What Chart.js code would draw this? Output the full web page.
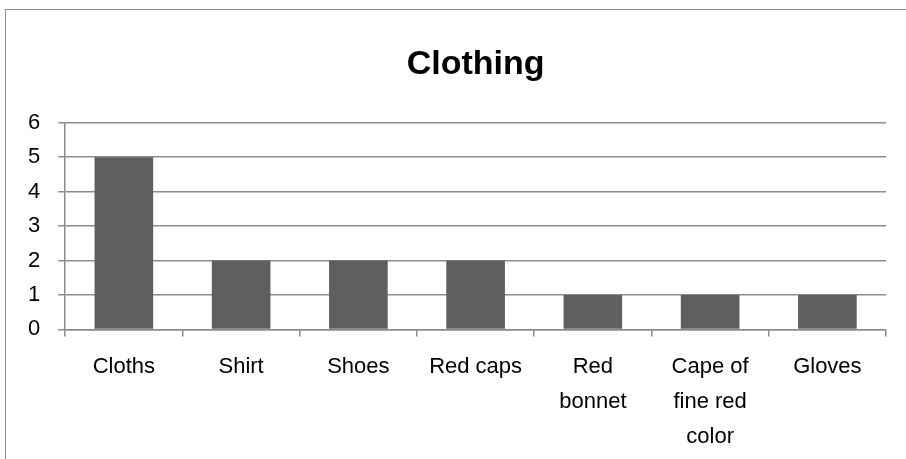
<!DOCTYPE html>
<html>
<head>
<meta charset="utf-8">
<script src="https://cdn.jsdelivr.net/npm/chart.js@4/dist/chart.umd.min.js"></script>
<style>
  html, body { margin: 0; padding: 0; background: #fff; overflow: hidden; }
  #marco { position: absolute; left: 5px; top: 9px; width: 1000px; height: 600px; border: 1px solid #8c8c8c; }
  #grafico { position: absolute; left: 0; top: 0; }
</style>
</head>
<body>
<div id="marco"><canvas id="grafico" width="900" height="458"></canvas></div>
<script>
const categorias = ['Cloths', 'Shirt', 'Shoes', 'Red caps', ['Red', 'bonnet'], ['Cape of', 'fine red', 'color'], 'Gloves'];
const cantidades = [5, 2, 2, 2, 1, 1, 1];
const ticksY = [0, 1, 2, 3, 4, 5, 6];

const fuente = "'Liberation Sans', Arial, sans-serif";
const gris = '#8c8c8c';

const canvas = document.getElementById('grafico');
new Chart(canvas.getContext('2d'), {
    type: 'bar',
    data: {
        labels: categorias,
        datasets: [{
            label: 'Clothing',
            data: cantidades,
            backgroundColor: '#5f5f5f',
            barPercentage: 0.5,
            categoryPercentage: 1
        }]
    },
    options: {
        responsive: false,
        animation: false,
        layout: { padding: { left: 4, right: 20, top: 0, bottom: 0 } },
        plugins: {
            legend: { display: false },
            tooltip: { enabled: false },
            title: {
                display: true,
                text: 'Clothing',
                fullSize: false,
                color: '#000',
                font: { family: fuente, size: 34, weight: 'bold', lineHeight: 1.2 },
                padding: { top: 34, bottom: 38 }
            }
        },
        scales: {
            x: {
                offset: true,
                grid: { display: true, drawOnChartArea: false, drawTicks: true, tickLength: 7, color: gris, lineWidth: 1.5, offset: true },
                border: { color: gris, width: 1.5 },
                ticks: { color: '#000', font: { family: fuente, size: 22, lineHeight: 1.6 }, padding: 13, maxRotation: 0, autoSkip: false }
            },
            y: {
                min: 0,
                max: 6,
                afterBuildTicks: axis => { axis.ticks = ticksY.map(v => ({ value: v })); },
                grid: { color: gris, lineWidth: 1.5, tickLength: 7 },
                border: { color: gris, width: 1.5 },
                ticks: { color: '#000', font: { family: fuente, size: 22 }, padding: 18, autoSkip: false }
            }
        }
    }
});
</script>
</body>
</html>
